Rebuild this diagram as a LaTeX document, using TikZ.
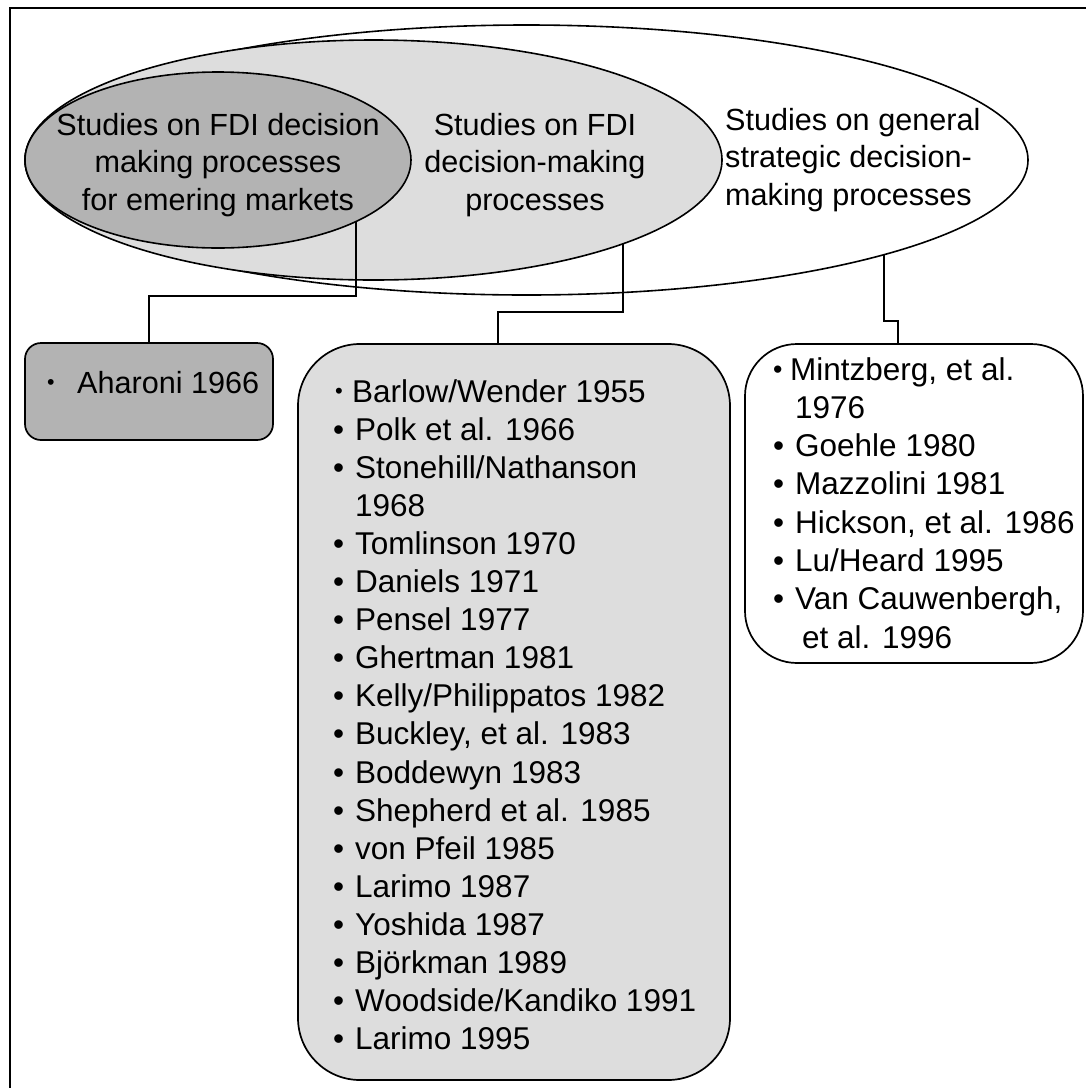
\documentclass[tikz,border=0pt]{standalone}
\usepackage{fontspec}
\usepackage{graphicx}
\setmainfont{Liberation Sans}
\usetikzlibrary{shapes.geometric,calc}

\definecolor{darkfill}{HTML}{B3B3B3}
\definecolor{lightfill}{HTML}{DDDDDD}

% bullet helpers for the reference lists
\newcommand\refbullet{\makebox[22pt][l]{•}}
% #1 leading space, #2 box width, #3 scale of the bullet
\newcommand\smallbullet[3]{\hspace*{#1}\makebox[#2][l]{\raisebox{\dimexpr 11pt-#3\dimexpr 11pt\relax\relax}{\scalebox{#3}{•}}}}
\newcommand\indentline{\hspace*{22pt}}

\begin{document}
\begin{tikzpicture}[x=1pt,y=-1pt,
  ring/.style={ellipse, draw=black, line width=1.6pt, inner sep=0pt, outer sep=0pt},
  headline/.style={inner sep=0pt, font=\fontsize{30.6}{37.5}\selectfont},
  listline/.style={inner sep=0pt, anchor=base west, font=\fontsize{31.5}{38}\selectfont},
  refbox/.style={draw=black, line width=1.7pt, rounded corners=#1, inner sep=0pt, outer sep=0pt},
  link/.style={draw=black, line width=1.7pt}
]
\path[use as bounding box] (0,0) rectangle (1086,1088);
\clip (0,0) rectangle (1086,1088);

% frame
\draw[line width=1.7pt] (10,1100) -- (10,8) -- (1100,8);

% nested study areas
\node[ring, fill=white, minimum width=1003pt, minimum height=270pt] (outer) at (526.5,160) {};
\node[ring, fill=lightfill, minimum width=697pt, minimum height=240pt] (mid) at (373.5,160) {};
\node[ring, fill=darkfill, minimum width=386pt, minimum height=176pt] (inner) at (218,160) {};

\foreach \t [count=\i] in {Studies on FDI decision, making processes, for emering markets}
  \node[headline, anchor=base] (ha\i) at (218, 97.5+37.5*\i) {\t};
\foreach \t [count=\i] in {Studies on FDI, decision-making, processes}
  \node[headline, anchor=base] (hb\i) at (535, 97.5+37.5*\i) {\t};
\foreach \t [count=\i] in {Studies on general, strategic decision-, making processes}
  \node[headline, anchor=base west] (hc\i) at (725, 92.5+37.5*\i) {\t};

% reference boxes
\node[refbox=16pt, fill=darkfill, minimum width=248pt, minimum height=97pt] (aharoni) at (149,391.5) {};
\node[refbox=62pt, fill=lightfill, minimum width=432pt, minimum height=736pt] (midbox) at (514,712) {};
\node[refbox=52pt, fill=white, minimum width=338pt, minimum height=319pt] (rightbox) at (914,503.5) {};

% connectors, starting on the lower rims of the areas
\draw[link] ($(inner.center)+(138,61.5)$) -- ++(0,74.5) -| (aharoni.north);
\draw[link] ($(mid.center)+(249.5,83.8)$) |- ($(midbox.north)+(-16,-32)$) -- ($(midbox.north)+(-16,0)$);
\draw[link] ($(outer.center)+(357.5,94.7)$) |- ($(rightbox.north)+(-16,-23)$) -- ($(rightbox.north)+(-16,0)$);

% reference lists
\node[listline, font=\fontsize{30.6}{38}\selectfont] (la1) at (47,393) {\smallbullet{0pt}{30pt}{0.7}Aharoni 1966};

\foreach \t [count=\i] in {
  {\smallbullet{2pt}{17pt}{0.7}Barlow/Wender 1955},
  {\refbullet Polk et al. 1966},
  {\refbullet Stonehill/Nathanson},
  {\indentline 1968},
  {\refbullet Tomlinson 1970},
  {\refbullet Daniels 1971},
  {\refbullet Pensel 1977},
  {\refbullet Ghertman 1981},
  {\refbullet Kelly/Philippatos 1982},
  {\refbullet Buckley, et al. 1983},
  {\refbullet Boddewyn 1983},
  {\refbullet Shepherd et al. 1985},
  {\refbullet von Pfeil 1985},
  {\refbullet Larimo 1987},
  {\refbullet Yoshida 1987},
  {\refbullet Björkman 1989},
  {\refbullet Woodside/Kandiko 1991},
  {\refbullet Larimo 1995}}
  \node[listline] (lb\i) at (333, 363.9+38.1*\i) {\t};

\foreach \t [count=\i] in {
  {\smallbullet{0pt}{17pt}{0.85}Mintzberg, et al.},
  {\indentline 1976},
  {\refbullet Goehle 1980},
  {\refbullet Mazzolini 1981},
  {\refbullet Hickson, et al. 1986},
  {\refbullet Lu/Heard 1995},
  {\refbullet Van Cauwenbergh,},
  {\indentline\hspace*{7pt}et al. 1996}}
  \node[listline] (lc\i) at (773, 341.7+38.3*\i) {\t};
\end{tikzpicture}
\end{document}
